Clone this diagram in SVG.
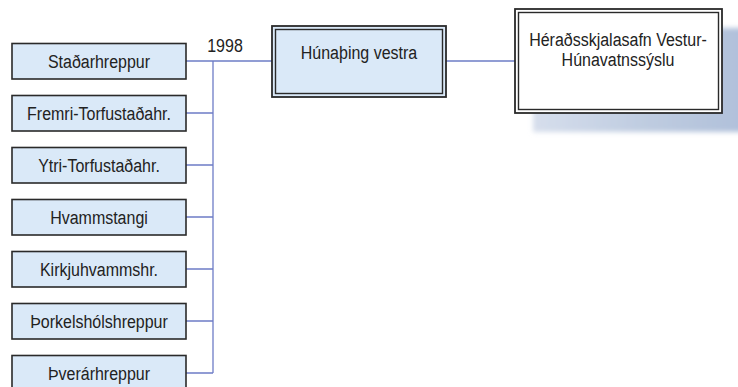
<svg xmlns="http://www.w3.org/2000/svg" width="738" height="387" viewBox="0 0 738 387">
<style>
.box{fill:#dae9f8;stroke:#2a2a2a;stroke-width:1.6}
.t{font-family:"Liberation Sans",Arial,sans-serif;font-size:16px;fill:#222;text-anchor:middle;transform-box:fill-box;transform-origin:center;transform:scaleY(1.1)}
.c{fill:none;stroke:#6d7cc6;stroke-width:1.3}
</style>
<defs>
<linearGradient id="sh" x1="0" y1="0" x2="1" y2="0">
<stop offset="0" stop-color="#d6deec"/>
<stop offset="0.5" stop-color="#c0cde1"/>
<stop offset="1" stop-color="#b0c0da"/>
</linearGradient>
<filter id="blur" x="-10%" y="-10%" width="120%" height="120%"><feGaussianBlur stdDeviation="2.5"/></filter>
</defs>
<rect width="738" height="387" fill="#ffffff"/>
<g id="connectors">
<path class="c" d="M186 61 H272"/>
<path class="c" d="M213 61 V373"/>
<path class="c" d="M186 113 H213 M186 165 H213 M186 217 H213 M186 269 H213 M186 321 H213 M186 373 H213"/>
<path class="c" d="M446 61 H515"/>
</g>
<text class="t" x="225" y="51">1998</text>
<g id="stadarhreppur"><rect class="box" x="12" y="43.5" width="174" height="35.5"/><text class="t" x="99" y="67.5">Staðarhreppur</text></g>
<g id="fremri"><rect class="box" x="12" y="95.5" width="174" height="35.5"/><text class="t" x="99" y="119.5">Fremri-Torfustaðahr.</text></g>
<g id="ytri"><rect class="box" x="12" y="147.5" width="174" height="35.5"/><text class="t" x="99" y="171.5">Ytri-Torfustaðahr.</text></g>
<g id="hvammstangi"><rect class="box" x="12" y="199.5" width="174" height="35.5"/><text class="t" x="99" y="223.5">Hvammstangi</text></g>
<g id="kirkjuhvammshr"><rect class="box" x="12" y="251.5" width="174" height="35.5"/><text class="t" x="99" y="275.5">Kirkjuhvammshr.</text></g>
<g id="thorkelsholshreppur"><rect class="box" x="12" y="303.5" width="174" height="35.5"/><text class="t" x="99" y="327.5">Þorkelshólshreppur</text></g>
<g id="thverarhreppur"><rect class="box" x="12" y="355.5" width="174" height="35.5"/><text class="t" x="99" y="379.5">Þverárhreppur</text></g>
<g id="hunathing">
<rect x="272" y="26" width="174" height="71" fill="#dae9f8" stroke="#2a2a2a" stroke-width="1.8"/>
<rect x="275.5" y="29.5" width="167" height="64" fill="none" stroke="#2a2a2a" stroke-width="1.4"/>
<text class="t" x="359" y="58">Húnaþing vestra</text>
</g>
<g id="heradsskjalasafn">
<rect x="533" y="28" width="210" height="104" fill="url(#sh)" filter="url(#blur)"/>
<rect x="515" y="9" width="207" height="104" fill="#ffffff" stroke="#2a2a2a" stroke-width="1.8"/>
<rect x="518.5" y="12.5" width="200" height="97" fill="none" stroke="#2a2a2a" stroke-width="1.4"/>
<text class="t" x="618" y="45.5">Héraðsskjalasafn Vestur-</text>
<text class="t" x="618" y="65">Húnavatnssýslu</text>
</g>
</svg>
